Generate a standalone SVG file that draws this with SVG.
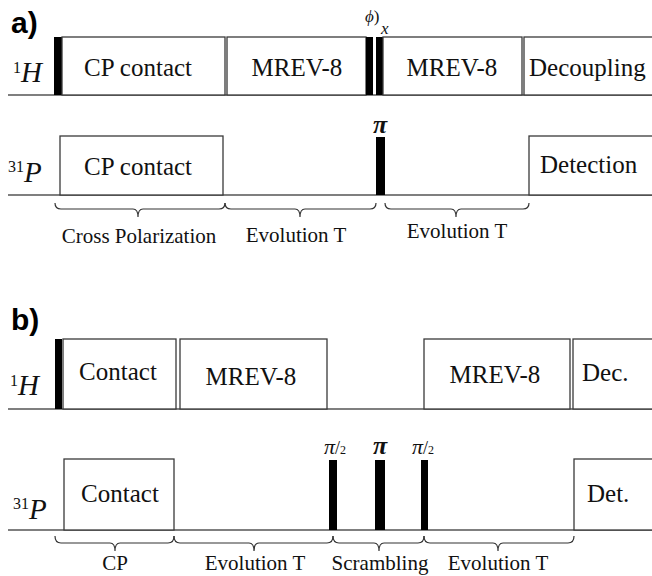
<svg xmlns="http://www.w3.org/2000/svg" width="652" height="576" viewBox="0 0 652 576">
<style>
.bg{fill:#fff}
.box{fill:#fff;stroke:#3a3a3a;stroke-width:1.3}
.pulse{fill:#000}
.axis{stroke:#555;stroke-width:1.5;fill:none}
.brace{stroke:#333;stroke-width:1.2;fill:none}
text{font-family:'Liberation Serif','Tinos','DejaVu Serif',serif;fill:#111}
.box-t{font-size:25px}
.lab-t{font-size:21px;text-anchor:middle}
.nuc{font-size:29px;font-style:italic}
.sup{font-size:16px;font-style:normal}
text.panel{font-family:'Liberation Sans',Arial,sans-serif;font-weight:bold;font-size:30px;fill:#000}
.pi{font-size:26px;font-style:italic;font-weight:bold;text-anchor:middle}
.pi2{font-size:22px;font-style:italic}
</style>
<rect class="bg" x="0" y="0" width="652" height="576"/>

<!-- Panel a -->
<text class="panel" x="11" y="33">a)</text>
<g id="a-axes">
<line class="axis" x1="8" y1="95" x2="652" y2="95"/>
<line class="axis" x1="8" y1="195" x2="652" y2="195"/>
</g>
<g id="a-H-label"><text class="nuc" x="13" y="82"><tspan class="sup" dy="-9">1</tspan><tspan dy="9">H</tspan></text></g>
<g id="a-P-label"><text class="nuc" x="8" y="182"><tspan class="sup" dy="-10">31</tspan><tspan dy="10">P</tspan></text></g>

<g id="a-H-pulse"><rect class="pulse" x="54" y="37" width="8" height="58"/></g>
<g id="a-H-cp"><rect class="box" x="62" y="37" width="163" height="58"/><text class="box-t" x="138" y="76" text-anchor="middle">CP contact</text></g>
<g id="a-H-mrev1"><rect class="box" x="227" y="37" width="139" height="58"/><text class="box-t" x="297" y="76" text-anchor="middle">MREV-8</text></g>
<g id="a-H-phi-pulses"><rect class="pulse" x="366" y="37" width="7" height="58"/><rect class="pulse" x="376" y="37" width="7" height="58"/>
<text x="365" y="22" font-size="17" font-style="italic">ϕ<tspan font-style="normal">)</tspan></text>
<text x="381" y="34" font-size="17" font-style="italic">x</text></g>
<g id="a-H-mrev2"><rect class="box" x="383" y="37" width="139" height="58"/><text class="box-t" x="452" y="76" text-anchor="middle">MREV-8</text></g>
<g id="a-H-dec"><rect class="box" x="524" y="37" width="140" height="58"/><text class="box-t" x="529" y="76">Decoupling</text></g>

<g id="a-P-cp"><rect class="box" x="60" y="136" width="163" height="59"/><text class="box-t" x="138" y="175" text-anchor="middle">CP contact</text></g>
<g id="a-P-pi"><rect class="pulse" x="376" y="137" width="9" height="58"/><text class="pi" x="380" y="133">π</text></g>
<g id="a-P-det"><rect class="box" x="529" y="136" width="135" height="59"/><text class="box-t" x="540" y="173">Detection</text></g>

<g id="a-braces">
<path class="brace" d="M55,203 q0,6 6,6 H133 q5,0 5,8 q0,-8 5,-8 H219 q6,0 6,-6"/>
<path class="brace" d="M225,203 q0,6 6,6 H295 q5,0 5,8 q0,-8 5,-8 H370 q6,0 6,-6"/>
<path class="brace" d="M385,203 q0,6 6,6 H451 q5,0 5,8 q0,-8 5,-8 H523 q6,0 6,-6"/>
</g>
<g id="a-labels">
<text class="lab-t" x="139" y="243">Cross Polarization</text>
<text class="lab-t" x="296" y="242">Evolution T</text>
<text class="lab-t" x="457" y="238">Evolution T</text>
</g>

<!-- Panel b -->
<text class="panel" x="11" y="330">b)</text>
<g id="b-axes">
<line class="axis" x1="8" y1="409" x2="652" y2="409"/>
<line class="axis" x1="8" y1="530" x2="652" y2="530"/>
</g>
<g id="b-H-label"><text class="nuc" x="10" y="395"><tspan class="sup" dy="-9">1</tspan><tspan dy="9">H</tspan></text></g>
<g id="b-P-label"><text class="nuc" x="13" y="519"><tspan class="sup" dy="-10">31</tspan><tspan dy="10">P</tspan></text></g>

<g id="b-H-pulse"><rect class="pulse" x="55" y="339" width="7" height="70"/></g>
<g id="b-H-contact"><rect class="box" x="63" y="339" width="113" height="70"/><text class="box-t" x="118" y="380" text-anchor="middle">Contact</text></g>
<g id="b-H-mrev1"><rect class="box" x="180" y="339" width="147" height="70"/><text class="box-t" x="251" y="385" text-anchor="middle">MREV-8</text></g>
<g id="b-H-mrev2"><rect class="box" x="424" y="339" width="146" height="70"/><text class="box-t" x="495" y="383" text-anchor="middle">MREV-8</text></g>
<g id="b-H-dec"><rect class="box" x="573" y="339" width="91" height="70"/><text class="box-t" x="582" y="381">Dec.</text></g>

<g id="b-P-contact"><rect class="box" x="64" y="459" width="110" height="71"/><text class="box-t" x="120" y="502" text-anchor="middle">Contact</text></g>
<g id="b-P-pi2a"><rect class="pulse" x="329" y="460" width="8" height="70"/><text class="pi2" x="324" y="454">π<tspan font-style="normal" font-size="18">/</tspan><tspan font-style="normal" font-size="12">2</tspan></text></g>
<g id="b-P-pi"><rect class="pulse" x="375" y="460" width="10" height="70"/><text class="pi" x="380" y="454">π</text></g>
<g id="b-P-pi2b"><rect class="pulse" x="421" y="460" width="7" height="70"/><text class="pi2" x="412" y="454">π<tspan font-style="normal" font-size="18">/</tspan><tspan font-style="normal" font-size="12">2</tspan></text></g>
<g id="b-P-det"><rect class="box" x="574" y="459" width="90" height="71"/><text class="box-t" x="587" y="502">Det.</text></g>

<g id="b-braces">
<path class="brace" d="M55,536 q0,7 6,7 H110 q5,0 5,8 q0,-8 5,-8 H168 q6,0 6,-7"/>
<path class="brace" d="M174,536 q0,7 6,7 H249 q5,0 5,8 q0,-8 5,-8 H327 q6,0 6,-7"/>
<path class="brace" d="M333,536 q0,7 6,7 H374 q5,0 5,8 q0,-8 5,-8 H418 q6,0 6,-7"/>
<path class="brace" d="M424,536 q0,7 6,7 H493 q5,0 5,8 q0,-8 5,-8 H568 q6,0 6,-7"/>
</g>
<g id="b-labels">
<text class="lab-t" x="115" y="570">CP</text>
<text class="lab-t" x="255" y="570">Evolution T</text>
<text class="lab-t" x="380" y="570">Scrambling</text>
<text class="lab-t" x="498" y="570">Evolution T</text>
</g>
</svg>
